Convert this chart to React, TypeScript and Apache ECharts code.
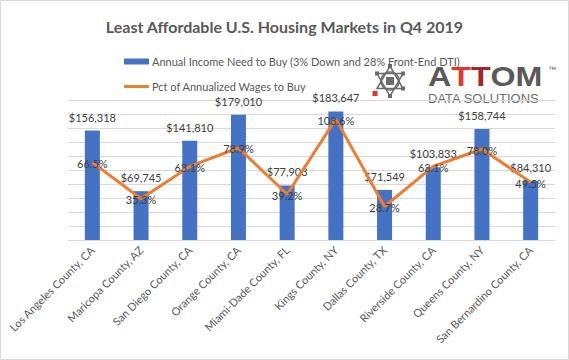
import React, { useEffect, useRef } from 'react';
import * as echarts from 'echarts';

const title = 'Least Affordable U.S. Housing Markets in Q4 2019';
const categories = [
  'Los Angeles County, CA',
  'Maricopa County, AZ',
  'San Diego County, CA',
  'Orange County, CA',
  'Miami-Dade County, FL',
  'Kings County, NY',
  'Dallas County, TX',
  'Riverside County, CA',
  'Queens County, NY',
  'San Bernardino County, CA',
];
const incomeNeeded = [156318, 69745, 141810, 179010, 77903, 183647, 71549, 103833, 158744, 84310];
const pctOfWages = [66.5, 35.3, 63.1, 78.9, 39.2, 103.6, 28.7, 63.1, 78.0, 49.5];
const seriesNames = [
  'Annual Income Need to Buy (3% Down and 28% Front-End DTI)',
  'Pct of Annualized Wages to Buy',
];

const FONT = 'Lato, "Noto Sans", sans-serif';
const GRAY = '#595959';
const LABEL = '#404040';
const BLUE = '#4472c4';
const ORANGE = '#ed7d31';

function logoGraphics() {
  const cx = 390;
  const cy = 81;
  const r = 15;
  const pts: number[][] = [];
  for (let i = 0; i < 6; i++) {
    const a = (-90 + i * 60) * Math.PI / 180;
    pts.push([cx + r * Math.cos(a), cy + r * Math.sin(a)]);
  }
  const iconGray = '#6b6b6b';
  const els: any[] = [];
  els.push({ type: 'polygon', shape: { points: [pts[0], pts[2], pts[4]] }, style: { fill: 'none', stroke: iconGray, lineWidth: 1.5 } });
  els.push({ type: 'polygon', shape: { points: [pts[1], pts[3], pts[5]] }, style: { fill: 'none', stroke: iconGray, lineWidth: 1.5 } });
  els.push({ type: 'circle', shape: { cx, cy, r: 9 }, style: { fill: 'none', stroke: iconGray, lineWidth: 1.5 } });
  els.push({ type: 'rect', shape: { x: cx - 4, y: cy - 4, width: 8, height: 8 }, style: { fill: iconGray } });
  pts.forEach((p, i) => {
    const red = i === 4;
    const s = red ? 5 : 4;
    const px = red ? p[0] - 2 : p[0];
    const py = red ? p[1] + 5 : p[1];
    els.push({ type: 'rect', shape: { x: px - s / 2, y: py - s / 2, width: s, height: s }, style: { fill: red ? '#e0302b' : iconGray } });
  });
  els.push({
    type: 'text',
    x: 428,
    y: 76,
    scaleX: 1.15,
    style: {
      text: '{g|A}{r|T}{d|T}{g|OM}',
      textVerticalAlign: 'middle',
      rich: {
        g: { font: 'bold 28px "Liberation Sans", Arial, sans-serif', fill: '#5a5a5a' },
        r: { font: 'bold 28px "Liberation Sans", Arial, sans-serif', fill: '#e03a2f' },
        d: { font: 'bold 28px "Liberation Sans", Arial, sans-serif', fill: '#a3262a' },
      },
    },
  });
  els.push({ type: 'text', x: 548, y: 69, style: { text: '™', font: '8px "Liberation Sans", Arial, sans-serif', fill: '#5a5a5a', textVerticalAlign: 'middle' } });
  els.push({ type: 'text', x: 428, y: 98, style: { text: 'DATA SOLUTIONS', font: '13px "Liberation Sans", Arial, sans-serif', fill: '#6d6d6d', textVerticalAlign: 'middle' } });
  return els;
}

export default function App() {
  const ref = useRef<HTMLDivElement>(null);
  useEffect(() => {
    if (!ref.current) return;
    const chart = echarts.init(ref.current, null, { renderer: 'svg' });
    chart.setOption({
      animation: false,
      backgroundColor: '#ffffff',
      textStyle: { fontFamily: FONT },
      title: {
        text: title,
        left: 'center',
        top: 13,
        textStyle: { fontFamily: FONT, fontSize: 16, fontWeight: 'bold', color: GRAY },
      },
      legend: [
        {
          data: [{ name: seriesNames[0], icon: 'rect' }],
          left: 119,
          top: 51,
          itemWidth: 25,
          itemHeight: 6,
          itemGap: 0,
          selectedMode: false,
          textStyle: { fontFamily: FONT, fontSize: 11, color: GRAY, padding: [0, 0, 0, -2] },
        },
        {
          data: [{ name: seriesNames[1], icon: 'roundRect' }],
          left: 119,
          top: 76,
          itemWidth: 25,
          itemHeight: 3,
          itemGap: 0,
          selectedMode: false,
          textStyle: { fontFamily: FONT, fontSize: 11, color: GRAY, padding: [0, 0, 0, -2] },
        },
      ],
      grid: { left: 68, right: 14, top: 100, bottom: 120, containLabel: false },
      xAxis: {
        type: 'category',
        data: categories,
        axisTick: { show: false },
        axisLine: { lineStyle: { color: '#d9d9d9', width: 1 } },
        axisLabel: { rotate: 45, interval: 0, fontSize: 11, color: GRAY, fontFamily: FONT, margin: 8 },
      },
      yAxis: [
        {
          type: 'value',
          min: 0,
          max: 200000,
          interval: 20000,
          axisLabel: { show: false },
          axisLine: { show: false },
          axisTick: { show: false },
          splitLine: { lineStyle: { color: '#d9d9d9', width: 1 } },
        },
        {
          type: 'value',
          min: 0,
          max: 120,
          show: false,
          splitLine: { show: false },
        },
      ],
      series: [
        {
          name: seriesNames[0],
          type: 'bar',
          data: incomeNeeded,
          barWidth: 15,
          itemStyle: { color: BLUE },
          label: {
            show: true,
            position: 'top',
            distance: 8,
            fontSize: 11,
            color: LABEL,
            fontFamily: FONT,
            formatter: (p: any) => '$' + Number(p.value).toLocaleString('en-US'),
          },
          z: 2,
        },
        {
          name: seriesNames[1],
          type: 'line',
          yAxisIndex: 1,
          data: pctOfWages,
          symbol: 'circle',
          symbolSize: 0.1,
          showSymbol: true,
          lineStyle: { color: ORANGE, width: 3 },
          itemStyle: { color: ORANGE },
          label: {
            show: true,
            position: 'inside',
            offset: [0, 1],
            fontSize: 11,
            color: LABEL,
            fontFamily: FONT,
            formatter: (p: any) => Number(p.value).toFixed(1) + '%',
          },
          z: 3,
        },
      ],
      graphic: [
        { type: 'rect', shape: { x: 0.5, y: 0.5, width: 568, height: 359 }, style: { fill: 'none', stroke: '#d9d9d9', lineWidth: 1 }, z: 100 },
        ...logoGraphics(),
      ],
    });
    return () => chart.dispose();
  }, []);
  return <div ref={ref} style={{ position: 'fixed', left: 0, top: 0, width: 569, height: 360 }} />;
}
